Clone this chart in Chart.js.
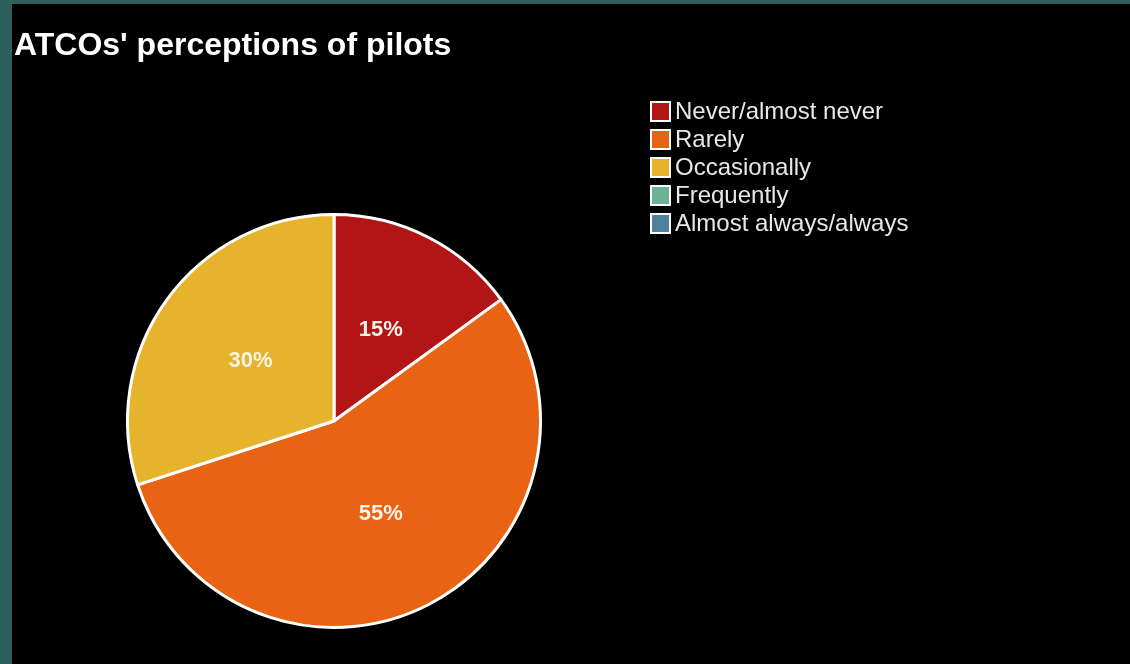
<!DOCTYPE html>
<html>
<head>
<meta charset="utf-8">
<script src="https://cdn.jsdelivr.net/npm/chart.js@4.4.0/dist/chart.umd.min.js"></script>
<style>
  html, body { margin: 0; padding: 0; width: 1130px; height: 664px; overflow: hidden; background: #2d605d; }
  #bg { position: absolute; left: 12px; top: 4px; right: 0; bottom: 0; background: #000; }
  #wrap { position: absolute; left: 0; top: 0; width: 1130px; height: 664px; }
</style>
</head>
<body>
<div id="bg"></div>
<div id="wrap"><canvas id="myChart" width="1130" height="664"></canvas></div>
<script>
	var chartTitle = "ATCOs' perceptions of pilots";
	var categories = ["Never/almost never", "Rarely", "Occasionally", "Frequently", "Almost always/always"];
	var percentValues = [15, 55, 30, 0, 0];
	var sliceColors = ["#b11515", "#e86414", "#e6b42c", "#6cb394", "#4f809c"];

	// titulo e legenda desenhados a mao, a legenda do chart.js nao fica onde precisa
	var extras = {
		id: 'extras',
		afterDraw: function(chart){
			var c = chart.ctx;
			c.save();
			c.fillStyle = '#ffffff';
			c.font = 'bold 32px "Liberation Sans", Arial, sans-serif';
			c.textBaseline = 'alphabetic';
			c.textAlign = 'left';
			c.fillText(chartTitle, 14, 55);

			// rotulos de porcentagem no meio de cada fatia
			var meta = chart.getDatasetMeta(0);
			c.font = 'bold 22px "Liberation Sans", Arial, sans-serif';
			c.textAlign = 'center';
			c.textBaseline = 'middle';
			c.fillStyle = '#f7f2e4';
			meta.data.forEach(function(arc, i){
				if (!percentValues[i]) return;
				var p = arc.tooltipPosition();
				c.fillText(percentValues[i] + '%', p.x, p.y + 1);
			});

			// legenda
			c.textAlign = 'left';
			c.font = '24px "Liberation Sans", Arial, sans-serif';
			categories.forEach(function(lbl, i){
				var y = 111 + i * 28;
				c.fillStyle = '#ffffff';
				c.fillRect(650, y - 10, 21, 21);
				c.fillStyle = sliceColors[i];
				c.fillRect(652, y - 8, 17, 17);
				c.fillStyle = '#e8e8e8';
				c.fillText(lbl, 675, y + 1);
			});
			c.restore();
		}
	};

	var ctx = document.getElementById('myChart');
	var myChart = new Chart(ctx, {
		type: 'pie',
		data: {
			labels: categories,
			datasets: [{
				data: percentValues,
				backgroundColor: sliceColors,
				borderColor: '#ffffff',
				borderWidth: 3
			}]
		},
		options: {
			responsive: false,
			animation: false,
			layout: {
				padding: { left: 126, top: 213, right: 588, bottom: 35 }
			},
			plugins: {
				legend: { display: false },
				title: { display: false },
				tooltip: { enabled: false }
			}
		},
		plugins: [extras]
	});
</script>
</body>
</html>
